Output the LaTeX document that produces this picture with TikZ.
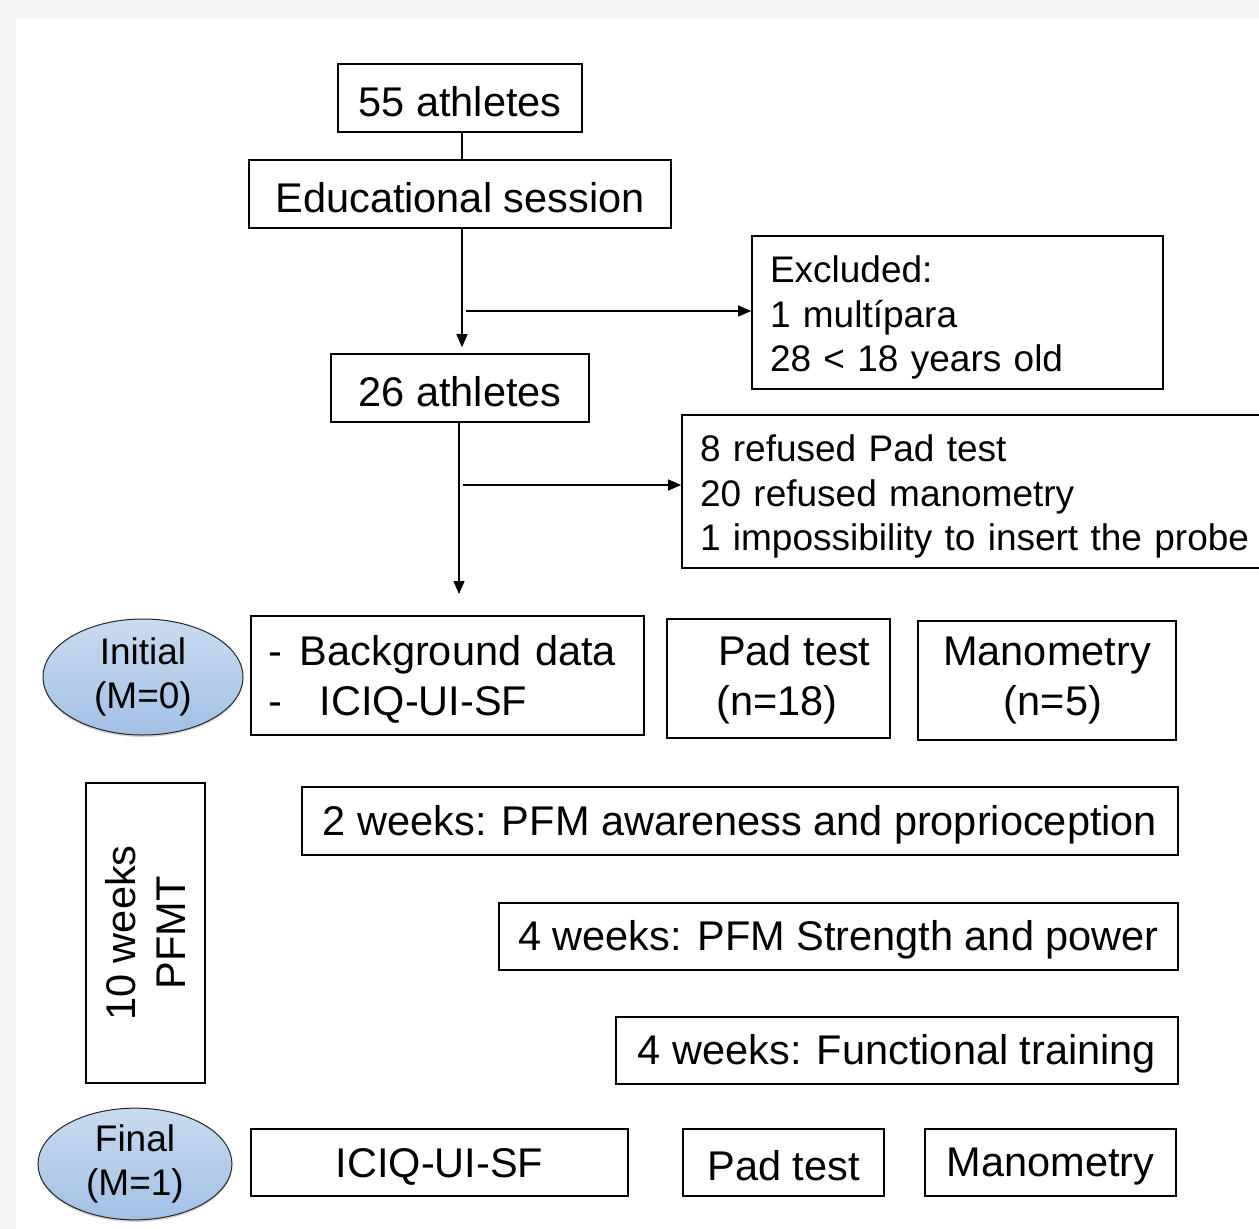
\documentclass[tikz,border=0pt]{standalone}
\usepackage{fontspec}
\setmainfont{Liberation Sans}
\usetikzlibrary{arrows.meta,shapes.geometric,shadows}
\newcommand{\bigtxt}{\fontsize{41.5}{50}\selectfont}
\newcommand{\smtxt}{\fontsize{37}{44.5}\selectfont}
\definecolor{pagegray}{HTML}{F4F4F4}
\definecolor{ovaltop}{HTML}{C9DBF0}
\definecolor{ovalbot}{HTML}{A2C0E6}
\begin{document}
\begin{tikzpicture}[x=1pt,y=-1pt,
  box/.style={draw=black, line width=1.6pt, inner sep=0pt, font=\bigtxt, align=center,
    execute at begin node={\rule{0pt}{37pt}}},
  smallbox/.style={box, font=\smtxt, execute at begin node={\rule{0pt}{34.5pt}}},
  oval/.style={ellipse, draw=black!85, line width=1pt, inner sep=0pt,
    top color=ovaltop, bottom color=ovalbot, font=\smtxt, align=center,
    execute at begin node={\rule{0pt}{34pt}},
    drop shadow={shadow xshift=0pt, shadow yshift=-2pt, opacity=0.35}},
  conn/.style={line width=1.2pt},
  arr/.style={conn, -{Triangle[length=13pt,width=11pt]}}]
\useasboundingbox (0,0) rectangle (1259,1229);
\fill[pagegray] (0,0) rectangle (1259,1229);
\fill[white] (16,19) rectangle (1259,1229);

% top flow
\node[box, minimum width=244pt, minimum height=68pt] (a55) at (460,98) {55 athletes};
\node[box, minimum width=422pt, minimum height=68pt] (edu) at (460,194) {Educational session};
\node[smallbox, minimum width=411pt, minimum height=153pt, text width=375pt, align=left] (excl) at (957.5,312.5)
  {Excluded:\\1 multípara\\28 < 18 years old};
\node[box, minimum width=258pt, minimum height=68pt] (a26) at (460,388) {26 athletes};
\node[smallbox, minimum width=593pt, minimum height=153pt, text width=557pt, align=left] (refu) at (978.5,491.5)
  {8 refused Pad test\\20 refused manometry\\1 impossibility to insert the probe};

\coordinate (c1) at (466,311);
\coordinate (c2) at (463,485);
\coordinate (c3) at (459,594);
\draw[conn] (a55.south -| 462,0) -- (edu.north -| 462,0);
\draw[arr, shorten >=6pt] (edu.south -| 462,0) -- (a26.north -| 462,0);
\draw[arr] (c1) -- (c1 -| excl.west);
\draw[arr] (a26.south -| c3) -- (c3);
\draw[arr] (c2) -- (c2 -| refu.west);

% initial row
\node[oval, minimum width=200pt, minimum height=116pt] (init) at (143,677) {Initial\\(M=0)};
\node[box, minimum width=393pt, minimum height=119pt, text width=359pt, align=left] (bg) at (447.5,675.5)
  {-\hspace{18pt}Background data\\-\hspace{38pt}ICIQ-UI-SF};
\node[box, minimum width=223pt, minimum height=119pt, execute at begin node={}] (pad1) at (778.5,678.5) {};
\node[font=\bigtxt, align=left, inner sep=0pt, anchor=west, execute at begin node={\rule{0pt}{37pt}}] (pad1t) at (716,680) {\hspace{2pt}Pad test\\(n=18)};
\node[box, minimum width=258pt, minimum height=119pt] (mano1) at (1047,680.5) {Manometry\\\hspace{12pt}(n=5)};

% training
\node[box, minimum width=119pt, minimum height=300pt, execute at begin node={}] (pfmt) at (145.5,933) {};
\node[font=\bigtxt, align=center, inner sep=0pt, rotate=90] (pfmtt) at (pfmt.center) {10 weeks\\PFMT};
\node[box, minimum width=876pt, minimum height=68pt] (w2) at (740,821) {2 weeks: PFM awareness and proprioception};
\node[box, minimum width=679pt, minimum height=67pt] (w4s) at (838.5,936.5) {4 weeks: PFM Strength and power};
\node[box, minimum width=562pt, minimum height=67pt] (w4f) at (897,1050.5) {4 weeks: Functional training};

% final row
\node[oval, minimum width=194pt, minimum height=106pt] (fin) at (135,1164) {Final\\(M=1)};
\node[box, minimum width=377pt, minimum height=67pt] (iciq) at (439.5,1162.5) {ICIQ-UI-SF};
\node[box, minimum width=201pt, minimum height=67pt] (pad2) at (783.5,1162.5) {Pad test};
\node[box, minimum width=251pt, minimum height=67pt] (mano2) at (1050.5,1162.5) {Manometry};
\end{tikzpicture}
\end{document}
